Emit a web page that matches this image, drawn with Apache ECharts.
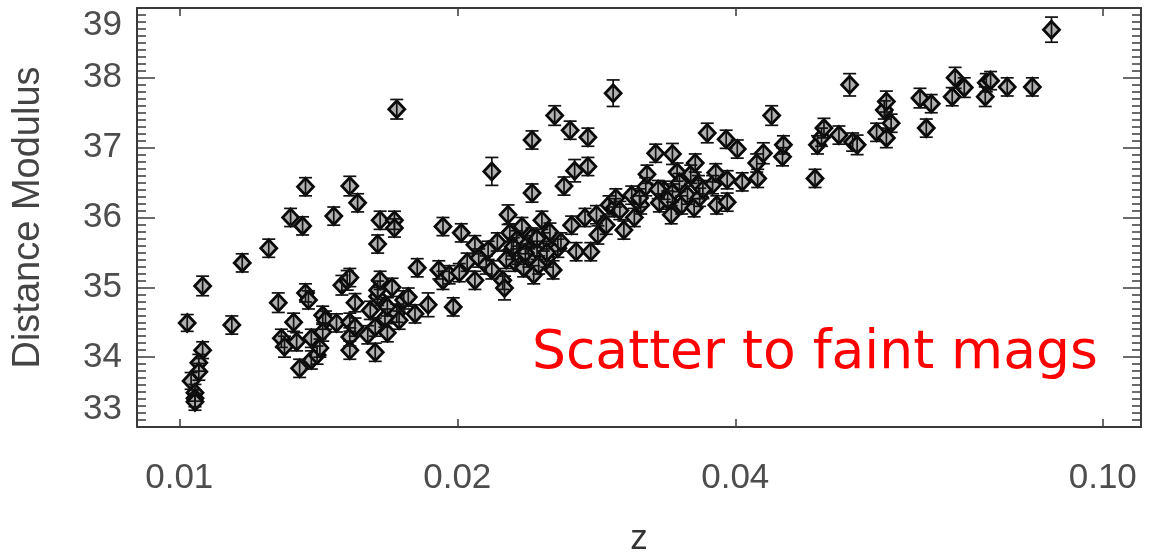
<!DOCTYPE html>
<html>
<head>
<meta charset="utf-8">
<script src="https://cdn.jsdelivr.net/npm/echarts@6/dist/echarts.min.js"></script>
<style>
  html, body { margin: 0; padding: 0; background: #ffffff; }
  #chart { width: 1153px; height: 552px; }
</style>
</head>
<body>
<div id="chart"></div>
<script>
// Supernova sample: redshift, distance modulus and its 1-sigma uncertainty
const redshift = [
  0.0102, 0.0106, 0.0106, 0.0105, 0.0105, 0.0103, 0.0104, 0.0104, 0.0104, 0.0114,
  0.0117, 0.0125, 0.0128, 0.0129, 0.0130, 0.0132, 0.0136, 0.0133, 0.0134, 0.0135,
  0.0137, 0.0138, 0.0137, 0.0139, 0.0139, 0.0141, 0.0142, 0.0143, 0.0144, 0.0143,
  0.0147, 0.0148, 0.0150, 0.0152, 0.0153, 0.0153, 0.0153, 0.0153, 0.0153, 0.0155,
  0.0155, 0.0156, 0.0160, 0.0161, 0.0163, 0.0163, 0.0164, 0.0164, 0.0164, 0.0165,
  0.0165, 0.0167, 0.0168, 0.0168, 0.0170, 0.0171, 0.0171, 0.0172, 0.0172, 0.0173,
  0.0175, 0.0177, 0.0180, 0.0181, 0.0186, 0.0191, 0.0193, 0.0193, 0.0196, 0.0198,
  0.0201, 0.0202, 0.0205, 0.0209, 0.0209, 0.0211, 0.0215, 0.0216, 0.0218, 0.0218,
  0.0221, 0.0224, 0.0225, 0.0227, 0.0228, 0.0229, 0.0231, 0.0232, 0.0233, 0.0235,
  0.0236, 0.0238, 0.0239, 0.0241, 0.0241, 0.0241, 0.0242, 0.0244, 0.0245, 0.0247,
  0.0248, 0.0250, 0.0252, 0.0254, 0.0255, 0.0257, 0.0259, 0.0261, 0.0265, 0.0266,
  0.0268, 0.0269, 0.0275, 0.0277, 0.0277, 0.0279, 0.0283, 0.0284, 0.0290, 0.0292,
  0.0295, 0.0296, 0.0297, 0.0303, 0.0309, 0.0311, 0.0316, 0.0320, 0.0321, 0.0328,
  0.0331, 0.0335, 0.0341, 0.0342, 0.0342, 0.0346, 0.0350, 0.0355, 0.0358, 0.0361,
  0.0362, 0.0365, 0.0366, 0.0373, 0.0378, 0.0381, 0.0382, 0.0391, 0.0392, 0.0392,
  0.0402, 0.0407, 0.0422, 0.0423, 0.0429, 0.0438, 0.0450, 0.0451, 0.0488, 0.0491,
  0.0496, 0.0499, 0.0518, 0.0532, 0.0536, 0.0542, 0.0569, 0.0580, 0.0583, 0.0583,
  0.0590, 0.0634, 0.0644, 0.0652, 0.0687, 0.0692, 0.0708, 0.0746, 0.0748, 0.0756,
  0.0788, 0.0839, 0.0880, 0.0230, 0.0237, 0.0244, 0.0226, 0.0250, 0.0315, 0.0330,
  0.0338, 0.0348, 0.0369, 0.0300
];
const distModulus = [
  34.49, 35.02, 34.10, 33.92, 33.79, 33.66, 33.49, 33.41, 33.36, 34.46,
  35.35, 35.56, 34.78, 34.27, 34.15, 36.00, 35.88, 34.50, 34.22, 33.84,
  34.92, 34.82, 36.44, 34.27, 33.96, 34.03, 34.13, 34.60, 34.53, 34.36,
  36.02, 34.49, 35.03, 35.10, 36.45, 35.14, 34.50, 34.29, 34.10, 34.43,
  34.78, 36.21, 34.32, 34.67, 34.07, 34.43, 34.87, 35.62, 34.96, 35.10,
  35.96, 34.56, 34.35, 34.72, 35.00, 35.96, 35.85, 34.63, 37.55, 34.53,
  34.82, 34.86, 34.62, 35.28, 34.75, 35.25, 35.10, 35.87, 35.18, 34.72,
  35.21, 35.78, 35.36, 35.61, 35.10, 35.42, 35.32, 35.53, 36.66, 35.25,
  35.65, 35.10, 34.99, 36.04, 35.78, 35.53, 35.36, 35.68, 35.46, 35.87,
  35.28, 35.61, 35.42, 35.72, 37.11, 36.35, 35.18, 35.53, 35.32, 35.96,
  35.65, 35.42, 35.79, 35.25, 37.46, 35.56, 35.65, 36.45, 37.25, 35.89,
  36.67, 35.51, 36.00, 37.15, 36.73, 35.51, 36.04, 35.75, 35.89, 36.18,
  37.78, 36.14, 36.28, 35.82, 36.32, 36.00, 36.18, 36.44, 36.62, 36.92,
  36.21, 36.39, 36.04, 36.35, 36.91, 36.65, 36.18, 36.32, 36.62, 36.14,
  36.78, 36.47, 36.29, 37.21, 36.47, 36.64, 36.18, 37.12, 36.54, 36.22,
  36.98, 36.51, 36.78, 36.56, 36.92, 37.46, 36.87, 37.04, 36.56, 37.04,
  37.15, 37.28, 37.18, 37.90, 37.08, 37.04, 37.22, 37.54, 37.66, 37.14,
  37.35, 37.71, 37.28, 37.63, 37.73, 38.00, 37.86, 37.73, 37.93, 37.96,
  37.87, 37.87, 38.69, 35.58, 35.49, 35.70, 35.40, 35.50, 36.28, 36.40,
  36.25, 36.50, 36.40, 36.10
];
const distError = [
  0.12, 0.14, 0.12, 0.12, 0.12, 0.12, 0.12, 0.12, 0.12, 0.13,
  0.13, 0.13, 0.14, 0.13, 0.15, 0.13, 0.13, 0.13, 0.13, 0.13,
  0.13, 0.13, 0.13, 0.13, 0.13, 0.13, 0.13, 0.13, 0.13, 0.13,
  0.13, 0.13, 0.14, 0.14, 0.14, 0.13, 0.13, 0.13, 0.13, 0.13,
  0.13, 0.13, 0.13, 0.13, 0.13, 0.13, 0.13, 0.13, 0.13, 0.13,
  0.13, 0.13, 0.13, 0.13, 0.13, 0.13, 0.13, 0.13, 0.14, 0.13,
  0.13, 0.13, 0.13, 0.13, 0.17, 0.13, 0.13, 0.13, 0.13, 0.13,
  0.13, 0.13, 0.13, 0.13, 0.13, 0.13, 0.13, 0.13, 0.20, 0.13,
  0.13, 0.13, 0.17, 0.14, 0.13, 0.13, 0.13, 0.13, 0.13, 0.13,
  0.13, 0.13, 0.13, 0.13, 0.13, 0.13, 0.13, 0.13, 0.13, 0.13,
  0.13, 0.13, 0.13, 0.13, 0.14, 0.13, 0.13, 0.13, 0.13, 0.13,
  0.16, 0.13, 0.13, 0.13, 0.13, 0.13, 0.13, 0.13, 0.13, 0.13,
  0.19, 0.13, 0.13, 0.13, 0.13, 0.13, 0.13, 0.13, 0.13, 0.13,
  0.13, 0.13, 0.13, 0.13, 0.15, 0.13, 0.13, 0.13, 0.13, 0.13,
  0.13, 0.13, 0.13, 0.14, 0.13, 0.13, 0.13, 0.13, 0.13, 0.13,
  0.13, 0.13, 0.13, 0.13, 0.15, 0.14, 0.13, 0.13, 0.13, 0.13,
  0.13, 0.14, 0.13, 0.16, 0.13, 0.14, 0.13, 0.13, 0.15, 0.14,
  0.13, 0.14, 0.13, 0.13, 0.13, 0.15, 0.14, 0.14, 0.13, 0.13,
  0.13, 0.13, 0.18, 0.13, 0.13, 0.13, 0.13, 0.13, 0.13, 0.13,
  0.13, 0.13, 0.13, 0.13
];
const zTicks = [0.01, 0.02, 0.04, 0.10];
const muTicks = [33, 34, 35, 36, 37, 38, 39];
const noteText = 'Scatter to faint mags';

const points = redshift.map((z, i) => [z, distModulus[i], distError[i]]);

const axisColor = '#3a3a3a';
const labelColor = '#4d4d4d';
const axisFont = 'Liberation Sans, Arial, Helvetica, sans-serif';

function xAxisDef(pos, showLabels) {
  return {
    type: 'log',
    logBase: 10,
    position: pos,
    min: 0.009,
    max: 0.11,
    name: showLabels ? 'z' : '',
    nameLocation: 'middle',
    nameGap: 95,
    nameTextStyle: { fontSize: 35, color: '#333', fontFamily: axisFont },
    axisLine: { show: true, onZero: false, lineStyle: { color: axisColor, width: 2 } },
    axisTick: { show: true, inside: true, length: 8, customValues: zTicks,
      lineStyle: { color: axisColor, width: 1.5 } },
    minorTick: { show: false },
    splitLine: { show: false },
    axisLabel: { show: showLabels, customValues: zTicks, margin: 34,
      fontSize: 35, color: labelColor, fontFamily: axisFont,
      formatter: v => Number(v).toFixed(2) }
  };
}

function yAxisDef(pos, showLabels) {
  return {
    type: 'value',
    position: pos,
    min: muTicks[0],
    max: muTicks[muTicks.length - 1],
    interval: 1,
    name: showLabels ? 'Distance Modulus' : '',
    nameLocation: 'middle',
    nameGap: 89,
    nameTextStyle: { fontSize: 38, color: '#444', fontFamily: axisFont },
    axisLine: { show: true, onZero: false, lineStyle: { color: axisColor, width: 2 } },
    axisTick: { show: true, inside: true, length: 18, lineStyle: { color: axisColor, width: 1.5 } },
    minorTick: { show: true, splitNumber: 10, length: 9, lineStyle: { color: axisColor, width: 1.5 } },
    splitLine: { show: false },
    axisLabel: { show: showLabels, margin: 15, fontSize: 35, color: labelColor,
      fontFamily: axisFont, verticalAlignMinLabel: 'bottom', verticalAlignMaxLabel: 'top' }
  };
}

const chart = echarts.init(document.getElementById('chart'), null, { renderer: 'canvas' });
chart.setOption({
  animation: false,
  backgroundColor: '#ffffff',
  title: {
    text: noteText,
    left: 532,
    top: 327,
    padding: 0,
    textStyle: { color: '#ff0000', fontSize: 53.5, fontWeight: 'normal', fontFamily: 'DejaVu Sans, Verdana, sans-serif' }
  },
  grid: { left: 137, right: 12, top: 8, bottom: 125, containLabel: false, outerBoundsMode: 'none' },
  xAxis: [xAxisDef('bottom', true), xAxisDef('top', false)],
  yAxis: [yAxisDef('left', true), yAxisDef('right', false)],
  series: [
    {
      type: 'scatter',
      data: points,
      symbol: 'diamond',
      symbolSize: [16, 17],
      itemStyle: { color: '#b0b0b0', borderColor: '#0a0a0a', borderWidth: 2.8, opacity: 1 },
      z: 2
    },
    {
      type: 'custom',
      data: points,
      encode: { x: 0, y: 1 },
      z: 3,
      renderItem: function (params, api) {
        const z = api.value(0), mu = api.value(1), e = api.value(2);
        const lo = api.coord([z, mu - e]);
        const hi = api.coord([z, mu + e]);
        const cap = 6.5;
        const style = { stroke: '#111', lineWidth: 1.7 };
        return {
          type: 'group',
          children: [
            { type: 'line', shape: { x1: lo[0], y1: lo[1], x2: hi[0], y2: hi[1] }, style: style },
            { type: 'line', shape: { x1: lo[0] - cap, y1: lo[1], x2: lo[0] + cap, y2: lo[1] }, style: style },
            { type: 'line', shape: { x1: hi[0] - cap, y1: hi[1], x2: hi[0] + cap, y2: hi[1] }, style: style }
          ]
        };
      }
    }
  ]
});
</script>
</body>
</html>
